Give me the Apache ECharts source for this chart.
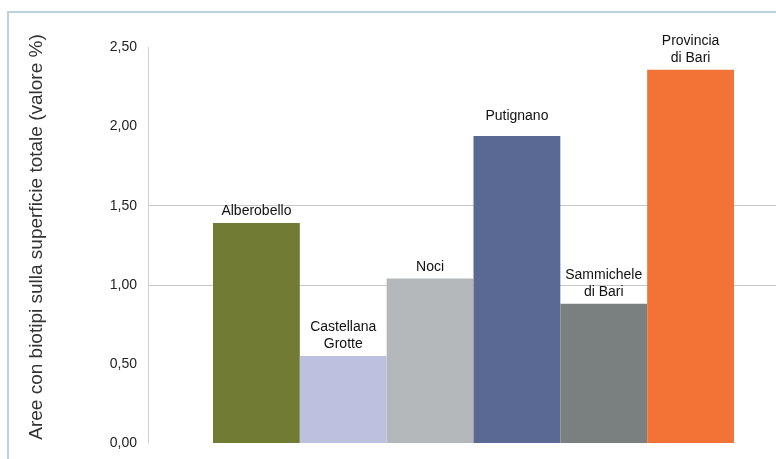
<!DOCTYPE html>
<html>
<head>
<meta charset="utf-8">
<script src="https://cdn.jsdelivr.net/npm/echarts@6/dist/echarts.min.js"></script>
<style>html,body{margin:0;padding:0;background:#fff;}#c{width:776px;height:459px;}</style>
</head>
<body>
<div id="c"></div>
<script>
const categories = ['Alberobello', 'Castellana\nGrotte', 'Noci', 'Putignano', 'Sammichele\ndi Bari', 'Provincia\ndi Bari'];
const values = [1.39, 0.55, 1.04, 1.94, 0.88, 2.36];
const colors = ['#717b34', '#bec0e0', '#b5b8ba', '#5a6894', '#7a807f', '#f37236'];
const yTicks = [0, 0.5, 1, 1.5, 2, 2.5];
const axisTitle = 'Aree con biotipi sulla superficie totale (valore %)';

const chart = echarts.init(document.getElementById('c'), null, {renderer: 'canvas'});
const fontFam = 'Liberation Sans, Arial, sans-serif';
const gridTop = 47.5, gridBottom = 16;
chart.setOption({
  animation: false,
  backgroundColor: '#fff',
  grid: [
    {left: 148, right: 0, top: gridTop, bottom: gridBottom},
    {left: 213, width: 521, top: gridTop, bottom: gridBottom}
  ],
  xAxis: [
    {type: 'value', gridIndex: 0, show: false, min: 0, max: 1},
    {type: 'category', gridIndex: 1, data: categories, show: false, boundaryGap: true}
  ],
  yAxis: [
    {
      type: 'value', gridIndex: 0, min: yTicks[0], max: yTicks[yTicks.length - 1], interval: 0.5,
      axisLine: {show: true, lineStyle: {color: '#d0d0d0', width: 1}},
      axisTick: {show: false},
      axisLabel: {fontFamily: fontFam, fontSize: 14, color: '#222', margin: 11,
        formatter: v => v.toFixed(2).replace('.', ',')},
      splitLine: {show: true, lineStyle: {color: ['rgba(0,0,0,0)', 'rgba(0,0,0,0)', '#c8c8c8', '#c8c8c8', 'rgba(0,0,0,0)', 'rgba(0,0,0,0)'], width: 1}}
    },
    {type: 'value', gridIndex: 1, min: yTicks[0], max: yTicks[yTicks.length - 1], show: false, splitLine: {show: false}}
  ],
  series: [{
    type: 'bar',
    xAxisIndex: 1, yAxisIndex: 1,
    barWidth: '100%',
    data: values.map((v, i) => ({value: v, itemStyle: {color: colors[i]},
      label: i === 3 ? {distance: 11} : undefined})),
    label: {
      show: true, position: 'top', distance: 3,
      formatter: '{b}', fontFamily: fontFam, fontSize: 14, lineHeight: 17, color: '#111'
    }
  }],
  graphic: [
    {type: 'polyline', shape: {points: [[8, 459], [8, 12], [776, 12]]},
     style: {stroke: '#bcd2e0', lineWidth: 2, fill: null}, silent: true},
    {type: 'text', x: 37, y: 237, rotation: Math.PI / 2,
     style: {text: axisTitle, font: '19px ' + fontFam, fill: '#333', align: 'center', verticalAlign: 'middle'},
     silent: true}
  ]
});
</script>
</body>
</html>
